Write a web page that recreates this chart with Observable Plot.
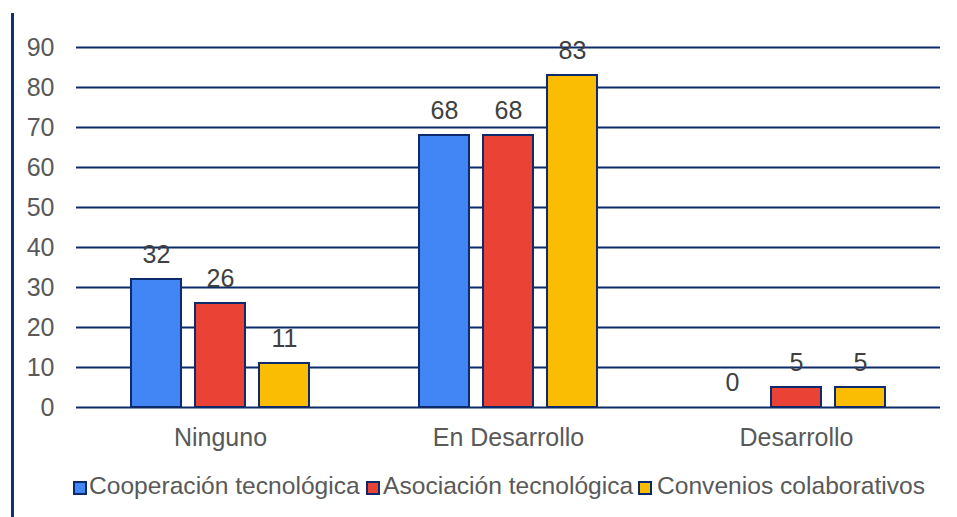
<!DOCTYPE html>
<html>
<head>
<meta charset="utf-8">
<script src="https://cdn.jsdelivr.net/npm/d3@7"></script>
<script src="https://cdn.jsdelivr.net/npm/@observablehq/plot@0.6"></script>
<style>
  html, body { margin: 0; padding: 0; background: #fff; }
  body { width: 957px; height: 517px; position: relative; overflow: hidden; font-family: "Liberation Sans", Arial, sans-serif; }
  #leftline { position: absolute; left: 11px; top: 13px; width: 3px; height: 504px; background: #13306e; }
  #chart { position: absolute; left: 0; top: 0; }
  #legend { position: absolute; left: 0; top: 472px; width: 957px; height: 32px; font-size: 24.6px; color: #595959; white-space: nowrap; }
  .sw { position: absolute; top: 9px; width: 10px; height: 10px; border: 2px solid #0d2a6b; }
  .lt { position: absolute; top: 0; line-height: 28px; }
</style>
</head>
<body>
<div id="leftline"></div>
<div id="chart"></div>
<div id="legend"></div>
<script>
const categories = ["Ninguno", "En Desarrollo", "Desarrollo"];
const series = ["Cooperación tecnológica", "Asociación tecnológica", "Convenios colaborativos"];
const cooperacion = [32, 68, 0];
const asociacion = [26, 68, 5];
const convenios = [11, 83, 5];
const yTicks = [0, 10, 20, 30, 40, 50, 60, 70, 80, 90];
const colors = ["#4285F4", "#EA4335", "#FBBC04"];

const navy = "#0d2a6b";
const seriesValues = [cooperacion, asociacion, convenios];
const data = categories.flatMap((c, i) => series.map((s, j) => ({cat: c, serie: s, value: seriesValues[j][i]})));

const chart = Plot.plot({
  width: 957,
  height: 460,
  marginLeft: 76,
  marginRight: 17,
  marginTop: 47,
  marginBottom: 53,
  style: {fontFamily: '"Liberation Sans", Arial, sans-serif', fontSize: "25px", color: "#595959", background: "transparent"},
  fx: {domain: categories, padding: 0, label: null},
  x: {domain: series, paddingInner: 0.22, paddingOuter: 0.86, axis: null},
  y: {domain: [0, 90], label: null},
  color: {domain: series, range: colors},
  marks: [
    Plot.ruleY(yTicks, {stroke: navy, strokeWidth: 2}),
    Plot.axisY({ticks: yTicks, tickSize: 0, tickPadding: 22, label: null, fontSize: 25}),
    Plot.axisFx({anchor: "bottom", tickSize: 0, tickPadding: 21, label: null, fontSize: 25}),
    Plot.barY(data.filter(d => d.value > 0), {fx: "cat", x: "serie", y: "value", fill: "serie", stroke: navy, strokeWidth: 2}),
    Plot.text(data, {fx: "cat", x: "serie", y: "value", text: d => String(d.value), dy: -25, fontSize: 25, fill: "#404040"})
  ]
});
document.getElementById("chart").appendChild(chart);

// legend: swatch + label, laid out like the reference's legend row
const legend = document.getElementById("legend");
const swatchLeft = [73, 366, 638];
const textLeft = [89, 383, 657];
series.forEach((s, j) => {
  const sw = document.createElement("div");
  sw.className = "sw";
  sw.style.left = swatchLeft[j] + "px";
  sw.style.background = colors[j];
  const t = document.createElement("span");
  t.className = "lt";
  t.style.left = textLeft[j] + "px";
  t.textContent = s;
  legend.appendChild(sw);
  legend.appendChild(t);
});
</script>
</body>
</html>
